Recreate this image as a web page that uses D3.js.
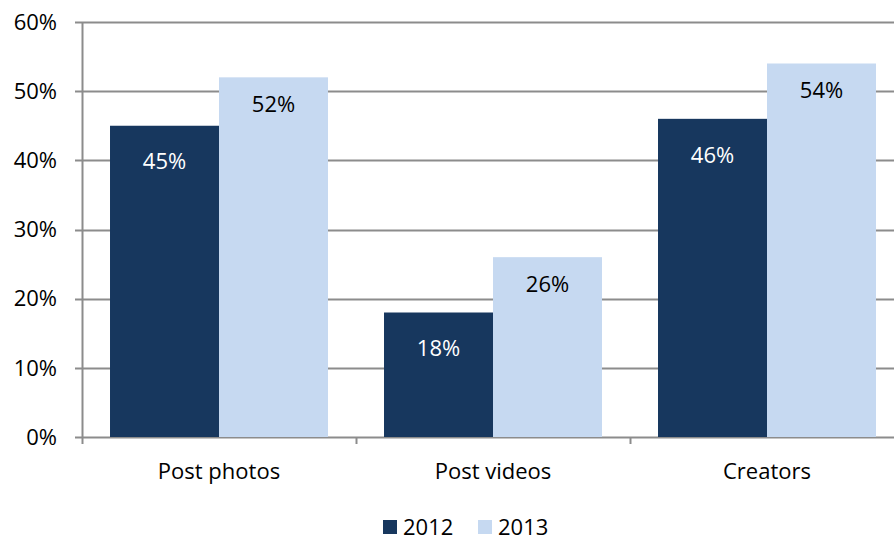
<!DOCTYPE html>
<html><head><meta charset="utf-8">
<script src="https://cdn.jsdelivr.net/npm/d3@7"></script>
<style>body{margin:0;background:#fff;}svg{display:block;font-family:"Open Sans",sans-serif;}</style>
</head><body><svg id="c" width="894" height="540"></svg>
<script>
const categories = ["Post photos", "Post videos", "Creators"];
const seriesNames = ["2012", "2013"];
const values2012 = [45, 18, 46];
const values2013 = [52, 26, 54];
const yTicks = [0, 10, 20, 30, 40, 50, 60];
const colors = ["#17375E", "#C6D9F1"];
const labelColors = ["#ffffff", "#000000"];

const svg = d3.select("#c");
const pLeft = 82, pRight = 904, pTop = 22, pBottom = 437;
const fs = 22;
const x = d3.scaleBand().domain(categories).range([pLeft, pRight]).paddingInner(0).paddingOuter(0);
const inner = d3.scaleBand().domain(seriesNames).range([0, x.bandwidth()]).paddingOuter(0.257).paddingInner(0);
const y = d3.scaleLinear().domain([0, 60]).range([pBottom, pTop]);

// gridlines
svg.append("g").selectAll("line").data(yTicks).join("line")
  .attr("x1", pLeft - 7).attr("x2", 894)
  .attr("y1", d => Math.round(y(d)) + 0.5).attr("y2", d => Math.round(y(d)) + 0.5)
  .attr("stroke", "#8c8c8c").attr("stroke-width", 2);

// y labels
svg.append("g").selectAll("text").data(yTicks).join("text")
  .attr("x", 57).attr("y", d => y(d)).attr("dy", "0.35em")
  .attr("text-anchor", "end").attr("font-size", fs).attr("fill", "#000")
  .text(d => d + "%");

const data = categories.map((c, i) => ({c, vals: [values2012[i], values2013[i]]}));
const groups = svg.append("g").selectAll("g").data(data).join("g")
  .attr("transform", d => `translate(${x(d.c)},0)`);
groups.selectAll("rect").data(d => d.vals.map((v, j) => ({v, s: seriesNames[j], j}))).join("rect")
  .attr("x", d => inner(d.s)).attr("width", inner.bandwidth())
  .attr("y", d => y(d.v)).attr("height", d => pBottom - y(d.v))
  .attr("fill", d => colors[d.j]);
groups.selectAll("text").data(d => d.vals.map((v, j) => ({v, s: seriesNames[j], j}))).join("text")
  .attr("x", d => inner(d.s) + inner.bandwidth() / 2)
  .attr("y", d => y(d.v) + (d.j === 0 ? 36 : 27)).attr("dy", "0.35em")
  .attr("text-anchor", "middle").attr("font-size", fs)
  .attr("fill", d => labelColors[d.j]).text(d => d.v + "%");

// axes lines
svg.append("line").attr("x1", pLeft + 0.5).attr("x2", pLeft + 0.5).attr("y1", pTop).attr("y2", pBottom + 1)
  .attr("stroke", "#8c8c8c").attr("stroke-width", 2);
svg.append("g").selectAll("line").data(categories).join("line")
  .attr("x1", d => x(d) + 0.5).attr("x2", d => x(d) + 0.5)
  .attr("y1", pBottom).attr("y2", pBottom + 7)
  .attr("stroke", "#8c8c8c").attr("stroke-width", 2);

// x labels
svg.append("g").selectAll("text").data(categories).join("text")
  .attr("x", d => x(d) + x.bandwidth() / 2).attr("y", 471).attr("dy", "0.35em")
  .attr("text-anchor", "middle").attr("font-size", fs).text(d => d);

// legend
const lg = svg.append("g");
const lx = [383, 478];
seriesNames.forEach((s, i) => {
  lg.append("rect").attr("x", lx[i]).attr("y", 520).attr("width", 14).attr("height", 14).attr("fill", colors[i]);
  lg.append("text").attr("x", lx[i] + 20).attr("y", 527).attr("dy", "0.35em").attr("font-size", fs).text(s);
});
</script></body></html>
